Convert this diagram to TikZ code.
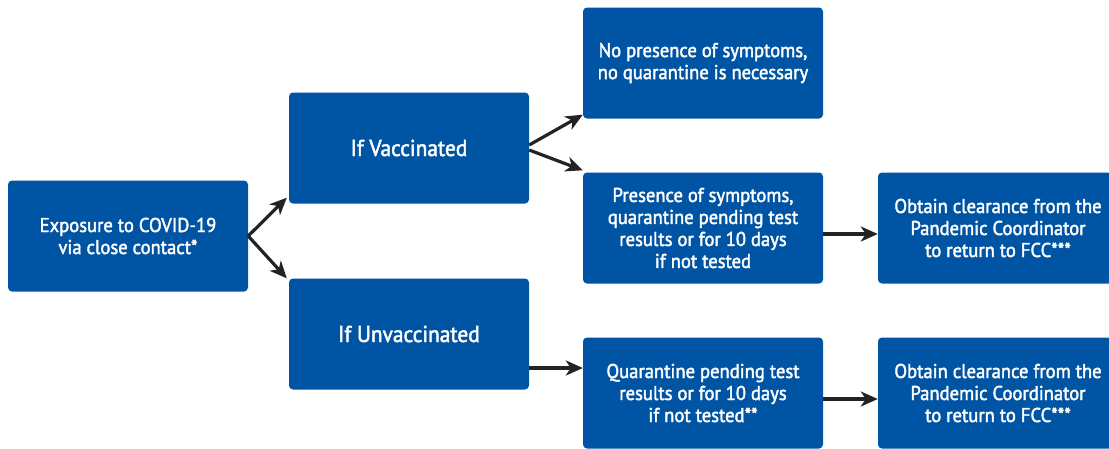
\documentclass[tikz,border=0pt]{standalone}
\usepackage{fontspec}
\setmainfont[FakeStretch=0.93,FakeBold=2]{PT Sans}
\usetikzlibrary{arrows.meta}
\definecolor{boxblue}{RGB}{0,84,164}
\definecolor{arrowgray}{RGB}{35,35,35}

\begin{document}
\begin{tikzpicture}[x=1pt,y=-1pt,
    box/.style={fill=boxblue, text=white, rounded corners=4pt, minimum width=240pt,
      minimum height=111pt, align=center, font=\fontsize{20}{22}\selectfont},
    big/.style={font=\fontsize{23}{26}\selectfont},
    arr/.style={-{Stealth[length=17pt,width=15pt,inset=5pt]}, line width=3.2pt, draw=arrowgray}]
  \useasboundingbox (0,0) rectangle (1109,448);
  \clip (0,0) rectangle (1109,448);
    \node[box] (E) at (128,236) {Exposure to COVID-19\\via close contact*};
    \node[box,big] (V) at (409,148) {If Vaccinated};
    \node[box,big] (U) at (409,334) {If Unvaccinated};
    \node[box] (N) at (703,63) {No presence of symptoms,\\no quarantine is necessary};
    \node[box] (P) at (703,228) {Presence of symptoms,\\quarantine pending test\\results or for 10 days\\if not tested};
    \node[box] (Q) at (703,393) {Quarantine pending test\\results or for 10 days\\if not tested**};
    \node[box] (O) at (998,228) {Obtain clearance from the\\Pandemic Coordinator\\to return to FCC***};
    \node[box] (R) at (998,393) {Obtain clearance from the\\Pandemic Coordinator\\to return to FCC***};
    \draw[arr] (E.east) -- ([xshift=-2pt,yshift=6pt]V.south west);
    \draw[arr] (E.east) -- ([xshift=-2pt]U.north west);
    \draw[arr] ([yshift=3pt]V.east) -- ([yshift=4pt]N.south west);
    \draw[arr] ([yshift=-2pt]V.east) -- ([yshift=2pt]P.north west);
    \draw[arr] ([yshift=-34pt]U.east) -- ([yshift=25pt]Q.west);
    \draw[arr] ([yshift=-6pt]P.east) -- ([yshift=-6pt]O.west);
    \draw[arr] ([yshift=-6pt]Q.east) -- ([yshift=-6pt]R.west);
\end{tikzpicture}
\end{document}
